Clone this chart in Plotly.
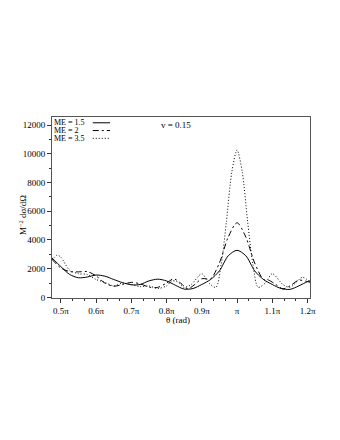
import plotly.graph_objects as go

# theta in units of pi
theta_15 = [0.475, 0.50, 0.525, 0.55, 0.575, 0.60, 0.625, 0.65, 0.675, 0.70, 0.725, 0.75, 0.775,
            0.80, 0.825, 0.85, 0.875, 0.90, 0.925, 0.95, 0.975, 1.00, 1.025, 1.05, 1.075, 1.10,
            1.125, 1.15, 1.175, 1.20, 1.207]
me_15 = [2750, 2150, 1600, 1370, 1420, 1560, 1480, 1250, 1030, 880, 900, 1150, 1270,
         1150, 850, 580, 620, 900, 1250, 1850, 2900, 3280, 2900, 1850, 1250, 900,
         620, 560, 800, 1100, 1150]

theta_2 = [0.475, 0.50, 0.525, 0.55, 0.575, 0.60, 0.625, 0.65, 0.675, 0.70, 0.725, 0.75, 0.775,
           0.80, 0.82, 0.84, 0.86, 0.88, 0.90, 0.925, 0.95, 0.975, 1.00, 1.025, 1.05, 1.075,
           1.09, 1.11, 1.13, 1.15, 1.175, 1.20, 1.207]
me_2 = [2650, 2050, 1800, 1780, 1800, 1500, 1000, 780, 900, 1050, 950, 720, 700,
        1000, 1300, 1000, 600, 900, 1300, 1300, 2400, 4200, 5200, 4200, 2400, 1250,
        1200, 900, 600, 800, 1200, 1100, 1050]

theta_35 = [0.475, 0.49, 0.50, 0.525, 0.55, 0.575, 0.60, 0.625, 0.65, 0.675, 0.70, 0.725, 0.75,
            0.775, 0.80, 0.815, 0.83, 0.85, 0.87, 0.90, 0.92, 0.94, 0.955, 0.97, 0.985, 1.00,
            1.015, 1.03, 1.045, 1.06, 1.08, 1.10, 1.13, 1.15, 1.17, 1.185, 1.207]
me_35 = [2600, 2950, 2800, 1900, 1650, 1600, 1250, 1050, 800, 1000, 900, 750, 800,
         620, 800, 1150, 1100, 700, 900, 1650, 1000, 700, 2300, 5300, 8700, 10270,
         8700, 5300, 2300, 700, 1000, 1650, 900, 700, 1100, 1400, 1100]

x_ticks = [0.5, 0.6, 0.7, 0.8, 0.9, 1.0, 1.1, 1.2]
x_labels = ["0.5π", "0.6π", "0.7π", "0.8π", "0.9π", "π", "1.1π", "1.2π"]
y_ticks = [0, 2000, 4000, 6000, 8000, 10000, 12000]

series = [
    ("ME = 1.5", theta_15, me_15, "solid"),
    ("ME = 2", theta_2, me_2, "6px,3px,2px,3px"),
    ("ME = 3.5", theta_35, me_35, "1px,2px"),
]

FONT = "Liberation Serif"

fig = go.Figure()
for name, xs, ys, dash in series:
    fig.add_trace(go.Scatter(x=xs, y=ys, mode="lines", name=name,
                             line=dict(color="black", width=1, dash=dash, shape="spline", smoothing=0.8)))

axis_common = dict(showgrid=False, zeroline=False, showline=True, mirror=True,
                   linecolor="#555", linewidth=1, ticks="outside", ticklen=4,
                   tickcolor="#333", tickfont=dict(family=FONT, size=9, color="black"))

fig.update_xaxes(range=[0.475, 1.207], tickvals=x_ticks, ticktext=x_labels,
                 minor=dict(ticks="outside", ticklen=2, tick0=0.5, dtick=0.1 / 3, tickcolor="#333"),
                 **axis_common)
fig.update_yaxes(range=[-40, 12560], tickvals=y_ticks, tickformat="d",
                 minor=dict(ticks="outside", ticklen=2, dtick=1000, tickcolor="#333"),
                 **axis_common)

# legend drawn Maple-style: text then line sample
legend_y = [0.968, 0.925, 0.882]
for (name, xs, ys, dash), ly in zip(series, legend_y):
    fig.add_annotation(x=0.005, y=ly, xref="paper", yref="paper", text=name, showarrow=False,
                       xanchor="left", yanchor="middle", borderpad=0,
                       font=dict(family=FONT, size=8, color="black"))
    fig.add_shape(type="line", xref="paper", yref="paper", x0=0.158, x1=0.225, y0=ly, y1=ly,
                  line=dict(color="black", width=1, dash=dash))

fig.add_annotation(x=0.48, y=0.955, xref="paper", yref="paper", text="v = 0.15", showarrow=False,
                   xanchor="center", yanchor="middle", font=dict(family=FONT, size=9, color="black"))
fig.add_annotation(x=0.49, y=-0.12, xref="paper", yref="paper", text="θ (rad)", showarrow=False,
                   xanchor="center", yanchor="middle", font=dict(family=FONT, size=9, color="black"))
fig.add_annotation(x=-0.115, y=0.46, xref="paper", yref="paper", text="M<sup>−2</sup> dσ/dΩ",
                   showarrow=False, textangle=-90, xanchor="center", yanchor="middle",
                   font=dict(family=FONT, size=9, color="black"))

# page body has an 8px margin, so the figure is offset by 8px
fig.update_layout(width=332, height=432, showlegend=False,
                  margin=dict(l=44, r=30, t=109, b=142),
                  plot_bgcolor="white", paper_bgcolor="white")

fig.write_html("out.html")
